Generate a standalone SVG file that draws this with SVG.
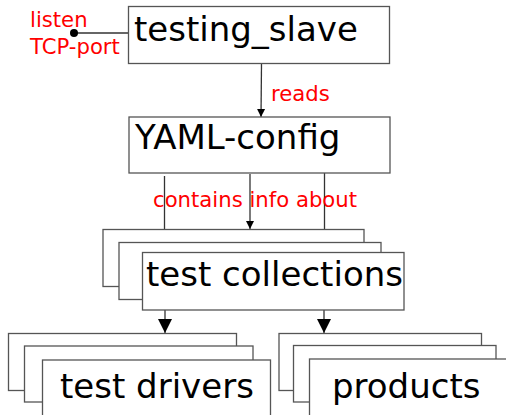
<svg xmlns="http://www.w3.org/2000/svg" width="506" height="415" viewBox="0 0 506 415">
<defs>
<style>
.box{fill:#fff;stroke:#555;stroke-width:1.3}
.big{font-family:"DejaVu Sans",sans-serif;font-size:34px;fill:#000}
.lbl{font-family:"DejaVu Sans",sans-serif;font-size:21.2px;fill:#ff0000}
.ln{stroke:#333;stroke-width:1.3;fill:none}
</style>
<marker id="sm" viewBox="0 0 8 10" refX="8" refY="5" markerWidth="8" markerHeight="10" markerUnits="userSpaceOnUse" orient="auto"><path d="M0,1 L8,5 L0,9 z" fill="#000"/></marker>
<marker id="lg" viewBox="0 0 14 14" refX="14" refY="7" markerWidth="14" markerHeight="14" markerUnits="userSpaceOnUse" orient="auto"><path d="M0,0 L14,7 L0,14 z" fill="#000"/></marker>
</defs>
<rect width="506" height="415" fill="#fff"/>
<g id="connectors">
<line class="ln" x1="74" y1="33" x2="128" y2="33" stroke="#777"/>
<circle cx="74" cy="33" r="4" fill="#000"/>
<line class="ln" x1="261.5" y1="64" x2="261" y2="117"  marker-end="url(#sm)"/>
<line class="ln" x1="164.5" y1="176" x2="164.5" y2="229"/>
<line class="ln" x1="250" y1="174" x2="250" y2="229" marker-end="url(#sm)"/>
<line class="ln" x1="324.5" y1="173" x2="324.5" y2="229"/>
<line class="ln" x1="165" y1="310" x2="165" y2="333" marker-end="url(#lg)"/>
<line class="ln" x1="324" y1="310" x2="324" y2="333" marker-end="url(#lg)"/>
</g>
<g id="listen-label">
<text class="lbl" x="30" y="27">listen</text>
<text class="lbl" x="30" y="54">TCP-port</text>
</g>
<g id="testing_slave">
<rect class="box" x="128.5" y="6.5" width="261" height="57"/>
<text class="big" x="134" y="41">testing_slave</text>
</g>
<text class="lbl" x="271" y="101">reads</text>
<g id="yaml-config">
<rect class="box" x="129" y="117" width="261" height="56"/>
<text class="big" x="135" y="149">YAML-config</text>
</g>
<text class="lbl" x="153" y="207">contains info about</text>
<g id="test-collections">
<rect class="box" x="103" y="229.5" width="261" height="57"/>
<rect class="box" x="119" y="242.5" width="262" height="57"/>
<rect class="box" x="142.5" y="252.5" width="261.5" height="57.5"/>
<text class="big" x="146" y="286">test collections</text>
</g>
<g id="test-drivers">
<rect class="box" x="8.5" y="333.5" width="228" height="57"/>
<rect class="box" x="24.5" y="346" width="228.5" height="56"/>
<rect class="box" x="42.5" y="360" width="228" height="60"/>
<text class="big" x="60" y="398">test drivers</text>
</g>
<g id="products">
<rect class="box" x="279" y="333.5" width="202.5" height="57"/>
<rect class="box" x="293.5" y="345.5" width="202.5" height="56.5"/>
<rect class="box" x="309.5" y="359" width="210" height="60"/>
<text class="big" x="332" y="398">products</text>
</g>
</svg>
